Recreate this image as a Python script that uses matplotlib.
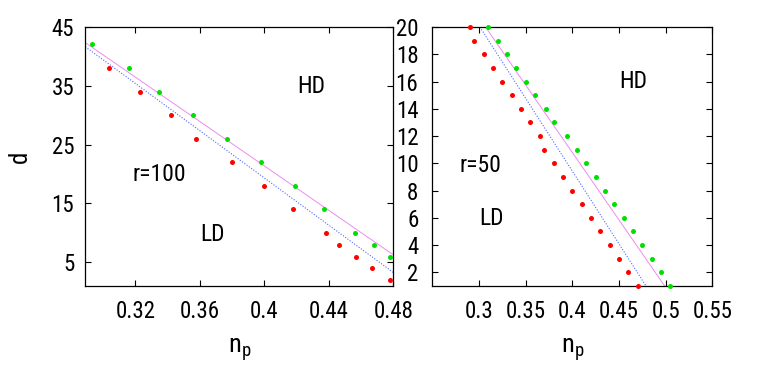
import matplotlib
matplotlib.use("Agg")
import matplotlib.pyplot as plt
from matplotlib import font_manager

fams = [f.name for f in font_manager.fontManager.ttflist]
main = 'Roboto Condensed' if 'Roboto Condensed' in fams else 'Liberation Sans'
plt.rcParams['font.family'] = [main, 'DejaVu Sans']
plt.rcParams['mathtext.fontset'] = 'custom'
plt.rcParams['mathtext.rm'] = main
plt.rcParams['mathtext.it'] = main

# ---- data: r = 100 panel ----
g100_np = [0.293, 0.316, 0.335, 0.356, 0.377, 0.398, 0.419, 0.437, 0.456, 0.468, 0.478]
g100_d = [42, 38, 34, 30, 26, 22, 18, 14, 10, 8, 6]
r100_np = [0.304, 0.323, 0.342, 0.3575, 0.380, 0.400, 0.418, 0.438, 0.4465, 0.457, 0.467, 0.478]
r100_d = [38, 34, 30, 26, 22, 18, 14, 10, 8, 6, 4, 2]
pink100_np = [0.289, 0.48]
pink100_d = [42.3, 6.3]
blue100_np = [0.289, 0.48]
blue100_d = [41.6, 3.3]

# ---- data: r = 50 panel ----
g50_np = [0.310, 0.320, 0.330, 0.340, 0.350, 0.360, 0.372, 0.380, 0.394, 0.405,
          0.415, 0.425, 0.435, 0.445, 0.455, 0.465, 0.475, 0.485, 0.495, 0.505]
g50_d = list(range(20, 0, -1))
r50_np = [0.290, 0.295, 0.305, 0.315, 0.325, 0.335, 0.345, 0.355, 0.365, 0.370,
          0.380, 0.390, 0.400, 0.410, 0.420, 0.430, 0.440, 0.450, 0.460, 0.470]
r50_d = list(range(20, 0, -1))
pink50_np = [0.307, 0.499]
pink50_d = [20, 1]
blue50_np = [0.301, 0.479]
blue50_d = [20, 1]

xt100 = [0.32, 0.36, 0.40, 0.44, 0.48]
xt100_lab = ['0.32', '0.36', '0.4', '0.44', '0.48']
yt100 = [5, 15, 25, 35, 45]
xt50 = [0.30, 0.35, 0.40, 0.45, 0.50, 0.55]
xt50_lab = ['0.3', '0.35', '0.4', '0.45', '0.5', '0.55']
yt50 = list(range(2, 21, 2))

GREEN = '#00e000'
RED = '#ff0000'
PINK = '#f08af0'
BLUE = '#5068ff'
FS = 16.5

fig = plt.figure(figsize=(7.63, 3.82), dpi=100)
ax1 = fig.add_axes([85.3/763, 1-286/382, (393.3-85.3)/763, (286-26.7)/382])
ax2 = fig.add_axes([432.3/763, 1-286/382, (712.3-432.3)/763, (286-27)/382])

def style(ax):
    ax.tick_params(direction='in', top=True, right=True, length=4, width=0.8,
                   labelsize=FS, colors='black')
    ax.tick_params(axis='x', pad=10)
    ax.tick_params(axis='y', pad=8)
    for s in ax.spines.values():
        s.set_linewidth(0.9)

for ax, gx, gy, rx, ry, px, py, bx, by in [
        (ax1, g100_np, g100_d, r100_np, r100_d, pink100_np, pink100_d, blue100_np, blue100_d),
        (ax2, g50_np, g50_d, r50_np, r50_d, pink50_np, pink50_d, blue50_np, blue50_d)]:
    ax.plot(px, py, color=PINK, lw=0.7)
    ax.plot(bx, by, color=BLUE, lw=0.8, linestyle=(0, (1, 1.5)))
    ax.plot(gx, gy, 'o', color=GREEN, ms=3.6, mew=0, clip_on=False, zorder=3)
    ax.plot(rx, ry, 'o', color=RED, ms=3.6, mew=0, clip_on=False, zorder=3)
    style(ax)

ax1.set_xlim(0.289, 0.48)
ax1.set_ylim(1, 45)
ax1.set_xticks(xt100)
ax1.set_xticklabels(xt100_lab)
ax1.set_yticks(yt100)
ax1.set_ylabel('d', fontsize=18, labelpad=14)
ax1.set_xlabel(r'n$_\mathregular{p}$', fontsize=19, labelpad=10)
ax1.text(0.4289, 34.8, 'HD', fontsize=FS + 0.5, ha='center', va='center')
ax1.text(0.3351, 19.9, 'r=100', fontsize=FS + 0.5, ha='center', va='center')
ax1.text(0.3677, 9.8, 'LD', fontsize=FS + 0.5, ha='center', va='center')

ax2.set_xlim(0.25, 0.55)
ax2.set_ylim(1, 20)
ax2.set_xticks(xt50)
ax2.set_xticklabels(xt50_lab)
ax2.set_yticks(yt50)
ax2.set_xlabel(r'n$_\mathregular{p}$', fontsize=19, labelpad=10)
ax2.tick_params(axis='y', pad=10)
ax2.text(0.465, 16.0, 'HD', fontsize=FS + 0.5, ha='center', va='center')
ax2.text(0.302, 9.87, 'r=50', fontsize=FS + 0.5, ha='center', va='center')
ax2.text(0.3133, 5.96, 'LD', fontsize=FS + 0.5, ha='center', va='center')

fig.savefig('out.png', dpi=100)
